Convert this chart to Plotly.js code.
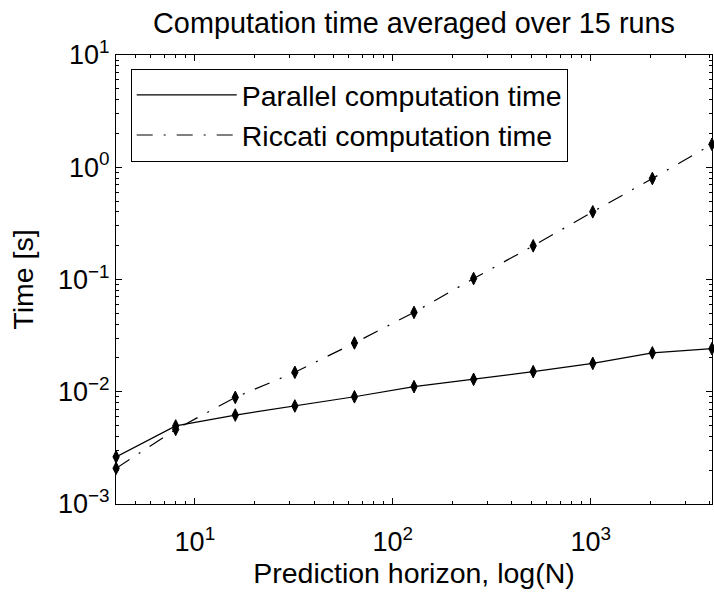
<!DOCTYPE html>
<html>
<head>
<meta charset="utf-8">
<script src="https://cdn.plot.ly/plotly-3.0.1.min.js"></script>
<style>html,body{margin:0;padding:0;background:#fff;}#plot{width:714px;height:595px;}</style>
</head>
<body>
<div id="plot"></div>
<script>
// Data
var horizonN = [4, 8, 16, 32, 64, 128, 256, 512, 1024, 2048, 4096];
var parallelTime = [0.00263, 0.00496, 0.0062, 0.00747, 0.00902, 0.0111, 0.0129, 0.0151, 0.0179, 0.0222, 0.0242];
var riccatiTime = [0.00208, 0.00462, 0.00891, 0.0149, 0.0272, 0.0509, 0.102, 0.1995, 0.401, 0.794, 1.60];
var seriesNames = ['Parallel computation time', 'Riccati computation time'];
var xTickVals = [10, 100, 1000];
var xTickText = ['10<sup>1</sup>', '10<sup>2</sup>', '10<sup>3</sup>'];
var yTickVals = [0.001, 0.01, 0.1, 1, 10];
var yTickText = ['10<sup>\u22123</sup>', '10<sup>\u22122</sup>', '10<sup>\u22121</sup>', '10<sup>0</sup>', '10<sup>1</sup>'];

function minorLogTicks(d0, d1) {
  var out = [];
  for (var d = d0; d <= d1; d++) {
    for (var m = 2; m <= 9; m++) out.push(m * Math.pow(10, d));
  }
  return out;
}

var FONT = 'Liberation Sans, Arial, Helvetica, sans-serif';

var traces = [
  {x: horizonN, y: parallelTime, type: 'scatter', mode: 'lines', name: seriesNames[0],
   line: {color: '#000', width: 1.2, dash: 'solid'}},
  {x: horizonN, y: riccatiTime, type: 'scatter', mode: 'lines', name: seriesNames[1],
   line: {color: '#000', width: 1.2, dash: '16px,11px,2px,11px'}},
  {x: horizonN, y: parallelTime, type: 'scatter', mode: 'markers', showlegend: false, cliponaxis: false,
   marker: {symbol: 'diamond-tall', size: 9, color: '#000', line: {color: '#000', width: 1}}},
  {x: horizonN, y: riccatiTime, type: 'scatter', mode: 'markers', showlegend: false, cliponaxis: false,
   marker: {symbol: 'diamond-tall', size: 9, color: '#000', line: {color: '#000', width: 1}}}
];

var axisCommon = {
  type: 'log', showgrid: false, zeroline: false, showline: true, linecolor: '#000', linewidth: 1,
  mirror: 'ticks', ticks: 'inside', ticklen: 6, tickwidth: 1, tickcolor: '#000',
  tickmode: 'array', tickfont: {family: FONT, size: 27, color: '#000'}
};

var layout = {
  width: 714, height: 595,
  margin: {l: 116, r: 2, t: 55, b: 91},
  paper_bgcolor: '#fff', plot_bgcolor: '#fff',
  font: {family: FONT, color: '#000'},
  title: {text: 'Computation time averaged over 15 runs', font: {family: FONT, size: 28.8, color: '#000'},
          x: 0.5, xref: 'paper', y: 1 - 22.5 / 595, yref: 'container', yanchor: 'middle'},
  xaxis: Object.assign({}, axisCommon, {
    range: [0.6015, 3.6127],
    tickvals: xTickVals, ticktext: xTickText, ticklabelstandoff: 14,
    minor: {tickmode: 'array', tickvals: minorLogTicks(0, 3), ticks: 'inside', ticklen: 3, tickcolor: '#000', tickwidth: 1},
    title: {text: 'Prediction horizon, log(N)', font: {family: FONT, size: 28.5, color: '#000'}, standoff: 1}
  }),
  yaxis: Object.assign({}, axisCommon, {
    range: [-3, 1],
    tickvals: yTickVals, ticktext: yTickText,
    minor: {tickmode: 'array', tickvals: minorLogTicks(-3, 0), ticks: 'inside', ticklen: 3, tickcolor: '#000', tickwidth: 1},
    title: {text: 'Time [s]', font: {family: FONT, size: 28.5, color: '#000'}, standoff: 16}
  }),
  showlegend: true,
  legend: {x: 0.0247, y: 0.969, xanchor: 'left', yanchor: 'top', bgcolor: '#fff', bordercolor: '#000', borderwidth: 1,
           font: {family: FONT, size: 28.5, color: '#000'}, itemwidth: 100, tracegroupgap: 0}
};

Plotly.newPlot('plot', traces, layout, {displayModeBar: false, staticPlot: true});
</script>
</body>
</html>
